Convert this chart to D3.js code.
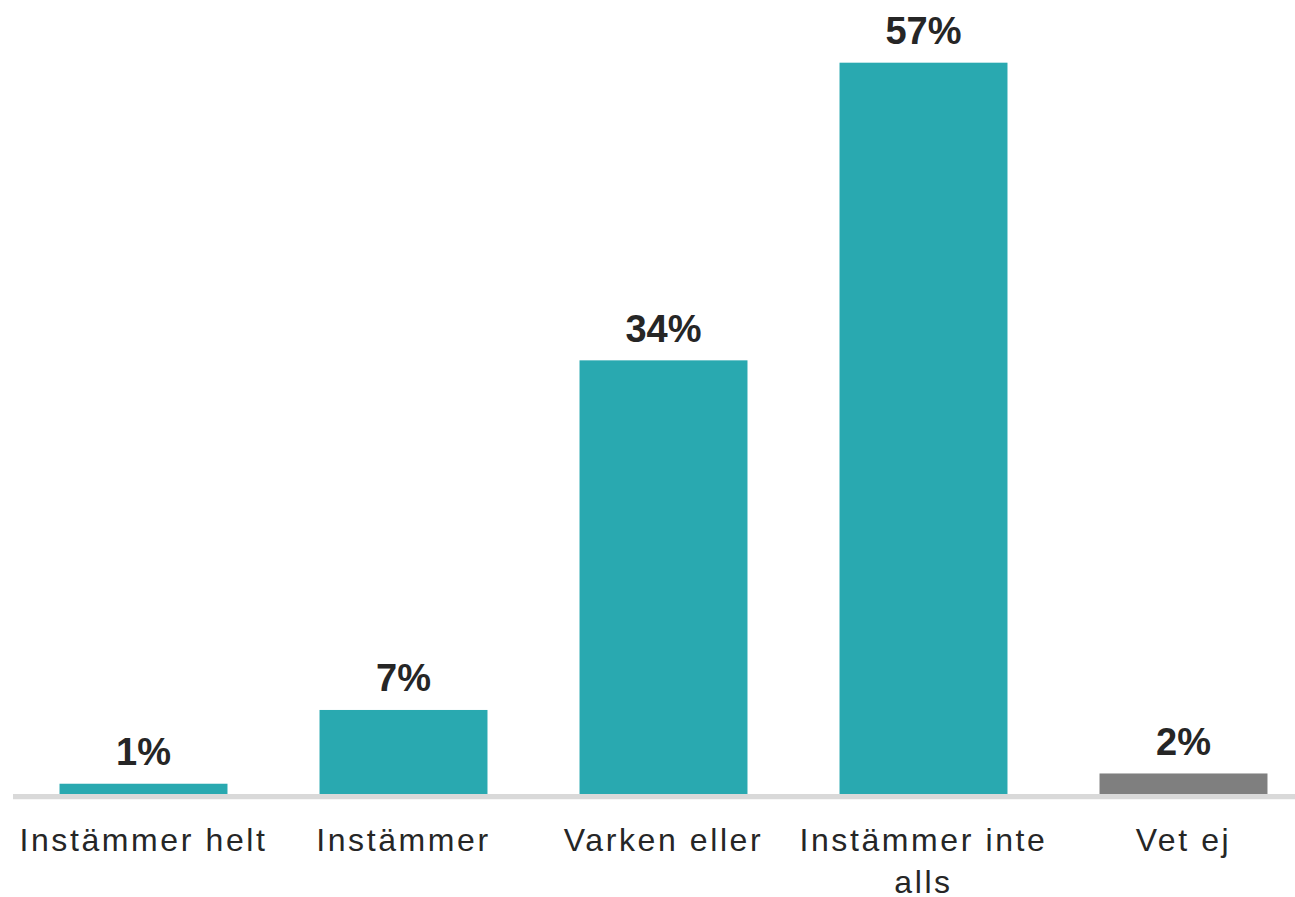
<!DOCTYPE html>
<html>
<head>
<meta charset="utf-8">
<script src="https://cdn.jsdelivr.net/npm/d3@7"></script>
<style>
  body { margin: 0; background: #fff; }
  svg { display: block; }
</style>
</head>
<body>
<div id="chart"></div>
<script>
// data
var categories = ["Instämmer helt", "Instämmer", "Varken eller", "Instämmer inte alls", "Vet ej"];
var labelLines = [["Instämmer helt"], ["Instämmer"], ["Varken eller"], ["Instämmer inte", "alls"], ["Vet ej"]];
var values = [0.8, 6.55, 33.8, 57.0, 1.6];
var barColors = ["#29a9b0", "#29a9b0", "#29a9b0", "#29a9b0", "#7f7f7f"];

var W = 1295, H = 897;
var baseY = 794;

var svg = d3.select("#chart").append("svg")
  .attr("width", W)
  .attr("height", H);

var x = d3.scaleBand()
  .domain(categories)
  .range([13.5, 1313.5])
  .paddingInner(0.354)
  .paddingOuter(0.177);

var y = d3.scaleLinear()
  .domain([0, 60])
  .range([baseY, baseY - 60 * 12.83]);

// bars
svg.selectAll("rect.bar")
  .data(values)
  .enter().append("rect")
  .attr("class", "bar")
  .attr("x", function(d, i) { return x(categories[i]); })
  .attr("y", function(d) { return y(d); })
  .attr("width", x.bandwidth())
  .attr("height", function(d) { return y(0) - y(d); })
  .style("fill", function(d, i) { return barColors[i]; });

// axis line
svg.append("line")
  .attr("x1", 13)
  .attr("x2", W)
  .attr("y1", baseY + 2.6)
  .attr("y2", baseY + 2.6)
  .style("stroke", "#d9d9d9")
  .style("stroke-width", 5.3);

// value labels
svg.selectAll("text.val")
  .data(values)
  .enter().append("text")
  .attr("class", "val")
  .attr("x", function(d, i) { return x(categories[i]) + x.bandwidth() / 2; })
  .attr("y", function(d) { return y(d) - 18.5; })
  .attr("text-anchor", "middle")
  .style("font-family", "'Liberation Sans', Arial, sans-serif")
  .style("font-weight", "bold")
  .style("font-size", "38px")
  .style("fill", "#262626")
  .text(function(d) { return Math.round(d) + "%"; });

// category labels
var cat = svg.selectAll("text.cat")
  .data(labelLines)
  .enter().append("text")
  .attr("class", "cat")
  .attr("x", function(d, i) { return x(categories[i]) + x.bandwidth() / 2; })
  .attr("y", 851)
  .attr("text-anchor", "middle")
  .style("font-family", "'Liberation Sans', Arial, sans-serif")
  .style("font-size", "32px")
  .style("letter-spacing", "2.6px")
  .style("fill", "#262626");

cat.each(function(lines, i) {
  var t = d3.select(this);
  var cx = x(categories[i]) + x.bandwidth() / 2;
  lines.forEach(function(s, j) {
    t.append("tspan")
      .attr("x", cx)
      .attr("dy", j === 0 ? 0 : 42)
      .text(s);
  });
});
</script>
</body>
</html>
